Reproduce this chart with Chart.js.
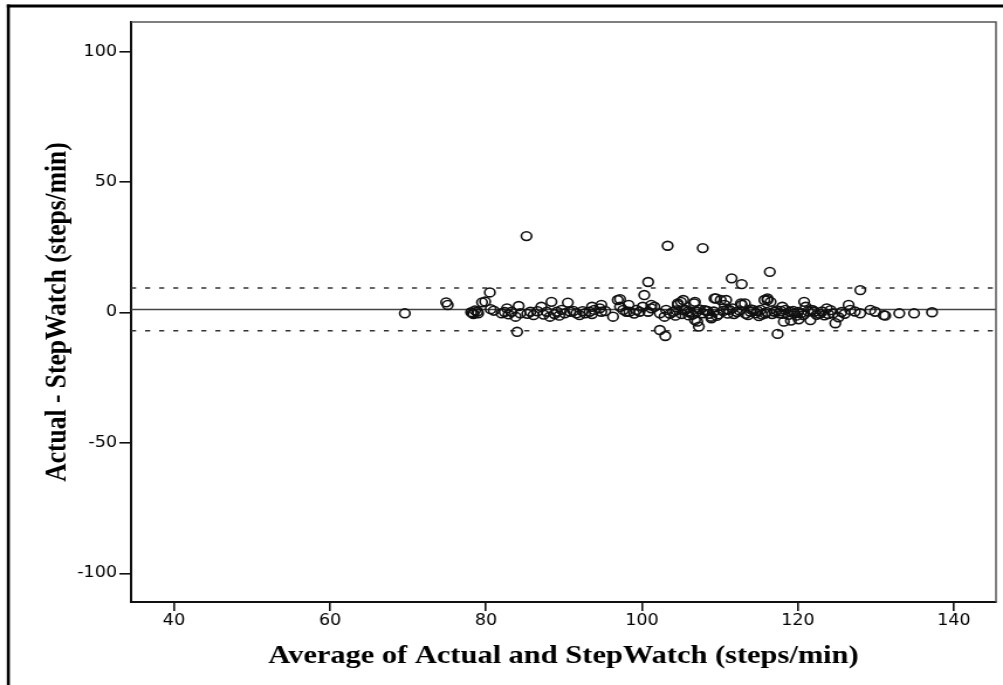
<!DOCTYPE html>
<html><head><meta charset="utf-8">
<script src="https://cdn.jsdelivr.net/npm/chart.js@4.4.1/dist/chart.umd.min.js"></script>
<style>html,body{margin:0;padding:0;background:#fff;overflow:hidden}canvas{display:block}</style>
</head><body>
<canvas id="c" width="857" height="685" style="width:1003px;height:685px"></canvas>
<script>
// Bland-Altman data: average (x) and difference (y)
const avgValues = [
 69.6,74.9,75.1,78.1,78.3,78.6,78.9,78.4,79.0,79.5,79.9,80.5,80.6,81.0,82.0,82.4,82.7,82.9,83.3,83.8,84.0,84.2,84.4,
 85.2,85.7,85.3,86.1,86.6,87.1,87.4,87.8,88.2,88.4,88.8,89.1,89.4,89.7,90.1,90.5,90.8,91.2,91.6,92.0,92.4,92.7,93.3,93.6,93.6,93.9,
 94.6,94.8,94.8,95.3,96.3,96.9,97.2,97.2,97.6,98.0,98.3,98.4,99.0,99.3,99.7,100.1,100.3,100.8,100.8,101.2,101.2,101.6,
 102.3,102.3,102.9,103.0,103.1,103.3,103.6,104.0,104.4,104.6,104.6,105.0,105.1,105.3,105.6,105.9,106.2,106.5,106.7,106.8,106.8,
 107.0,107.1,107.3,107.4,107.8,107.8,108.0,108.4,108.6,108.9,108.9,109.2,109.3,109.5,109.8,110.1,110.4,110.6,110.8,111.0,
 111.2,111.5,111.6,111.8,112.2,112.5,112.7,112.8,112.8,113.2,113.3,113.9,114.0,114.6,114.8,115.2,115.4,115.7,115.8,116.0,
 116.1,116.1,116.4,116.5,116.7,117.0,117.3,117.4,117.6,118.0,118.0,118.2,118.4,118.8,119.0,119.1,119.4,119.6,120.0,120.1,
 120.4,120.7,120.8,121.0,121.3,121.6,121.7,122.1,122.4,122.8,123.1,123.7,123.9,124.2,124.5,124.8,125.2,125.6,126.0,126.5,
 126.7,127.3,128.0,128.0,129.3,129.9,131.0,131.2,133.0,134.9,137.2,
 104.3,105.4,106.0,108.2,109.6,110.9,113.6,114.3,115.0,117.8,119.8,121.9,123.4
];
const diffValues = [
 -0.3,3.9,2.9,0.1,-0.2,0.8,0.4,-0.6,-0.3,3.9,4.2,7.7,1.3,0.7,-0.3,0.2,1.6,-0.7,0.3,-1.6,-7.4,2.5,-0.3,
 29.3,0.3,-0.5,-1.0,0.5,2.2,-0.8,0.3,-1.6,4.1,-0.6,0.3,-1.2,1.0,-0.3,3.8,0.3,0.6,-0.3,-1.0,0.5,-0.3,0.3,2.2,-0.6,1.0,
 1.6,0.3,2.9,0.6,-1.6,4.8,2.2,5.1,1.0,0.3,2.9,0.3,-0.4,1.0,0.3,2.2,6.7,11.7,0.3,1.6,2.9,2.2,
 -0.3,-6.7,-1.6,-9.0,1.0,25.6,-0.5,0.3,0.8,2.9,3.5,4.1,-0.6,4.8,1.0,0.4,0.0,-0.8,3.5,4.1,-2.9,
 0.3,-3.5,-5.4,1.2,24.7,-0.3,0.9,0.6,-0.5,-1.6,-2.2,0.4,5.4,5.4,-0.7,4.8,0.6,2.9,4.8,-0.4,
 1.0,13.1,1.6,-0.6,0.2,0.8,3.5,2.9,10.9,3.5,-0.5,0.3,1.2,-0.3,0.6,1.0,-0.8,4.8,-0.4,0.2,
 4.8,5.4,15.6,4.1,-0.6,0.3,0.8,-8.2,-0.3,2.2,-0.5,-3.5,1.0,-0.9,0.3,-3.1,0.6,-0.3,0.2,-2.6,
 -0.3,-1.0,4.1,2.2,0.5,-2.9,1.0,0.3,-0.9,-0.5,0.4,1.6,-0.6,0.9,-0.3,-4.1,-1.8,0.2,-0.5,2.9,
 1.0,0.4,-0.3,8.6,1.0,0.3,-1.0,-1.2,-0.3,-0.3,0.1,
 -1.2,0.9,-1.1,0.7,-1.3,1.1,-1.0,0.9,-1.4,0.6,-1.2,0.9,-1.1
];
const meanDiff = 1.2;
const upperLimit = 9.4;
const lowerLimit = -7.0;
const xTicks = [40, 60, 80, 100, 120, 140];
const yTicks = [-100, -50, 0, 50, 100];
const xRange = [34.5, 145.4];
const yRange = [-111, 111.4];
const xTitle = 'Average of Actual and StepWatch (steps/min)';
const yTitle = 'Actual - StepWatch (steps/min)';

const framePlugin = {
  id: 'frame',
  beforeDraw(chart) {
    const ctx = chart.ctx;
    ctx.save(); ctx.fillStyle = '#fff'; ctx.fillRect(0, 0, chart.width, chart.height); ctx.restore();
  },
  afterDraw(chart) {
    const {ctx, chartArea: a} = chart;
    ctx.save();
    ctx.strokeStyle = '#000';
    ctx.lineWidth = 3;
    ctx.beginPath(); ctx.moveTo(5.8, 6); ctx.lineTo(chart.width, 6); ctx.stroke();
    ctx.lineWidth = 2.6;
    ctx.beginPath(); ctx.moveTo(7.1, 4.5); ctx.lineTo(7.1, chart.height); ctx.stroke();
    ctx.strokeStyle = '#555';
    ctx.lineWidth = 1.5;
    ctx.beginPath(); ctx.moveTo(a.left, a.top); ctx.lineTo(a.right, a.top); ctx.lineTo(a.right, a.bottom); ctx.stroke();
    ctx.restore();
  }
};

const hline = (y, dash, color) => ({
  data: [{x: xRange[0], y: y}, {x: xRange[1], y: y}],
  showLine: true, borderColor: color, borderWidth: 1.5, borderDash: dash,
  pointRadius: 0, pointHoverRadius: 0, fill: false
});

new Chart(document.getElementById('c'), {
  type: 'scatter',
  data: {
    datasets: [
      {
        data: avgValues.map((x, i) => ({x: x, y: diffValues[i]})),
        pointStyle: 'circle', pointRadius: 4.4, pointBorderWidth: 1.6,
        borderColor: '#111', backgroundColor: 'rgba(0,0,0,0)'
      },
      hline(meanDiff, [], '#444'),
      hline(upperLimit, [4.3, 7.7], '#333'),
      hline(lowerLimit, [4.3, 7.7], '#333')
    ]
  },
  options: {
    responsive: false, animation: false, devicePixelRatio: 1,
    layout: {padding: {top: 22, right: 3, left: 0, bottom: 0}},
    plugins: {legend: {display: false}, tooltip: {enabled: false}},
    scales: {
      x: {
        type: 'linear', min: xRange[0], max: xRange[1],
        afterFit: s => { s.height = 83; },
        afterBuildTicks: s => { s.ticks = xTicks.map(v => ({value: v})); },
        grid: {display: true, drawOnChartArea: false, drawTicks: true, tickLength: 9, color: '#111', lineWidth: 1.6},
        border: {display: true, color: '#111', width: 2},
        ticks: {font: {family: 'DejaVu Sans', size: 15}, color: '#000', padding: 1, maxRotation: 0},
        title: {display: true, text: xTitle, color: '#000',
          font: {family: 'Liberation Serif', size: 26, weight: 'bold'}, padding: {top: 0, bottom: 13}}
      },
      y: {
        type: 'linear', min: yRange[0], max: yRange[1],
        afterFit: s => { s.width = 112; },
        afterBuildTicks: s => { s.ticks = yTicks.map(v => ({value: v})); },
        grid: {display: true, drawOnChartArea: false, drawTicks: true, tickLength: 10, color: '#111', lineWidth: 1.6},
        border: {display: true, color: '#111', width: 2},
        ticks: {font: {family: 'DejaVu Sans', size: 15}, color: '#000', padding: 2},
        title: {display: true, text: yTitle, color: '#000',
          font: {family: 'Liberation Serif', size: 25.5, weight: 'bold'}, padding: {top: 34, bottom: 0}}
      }
    }
  },
  plugins: [framePlugin]
});
</script>
</body></html>
